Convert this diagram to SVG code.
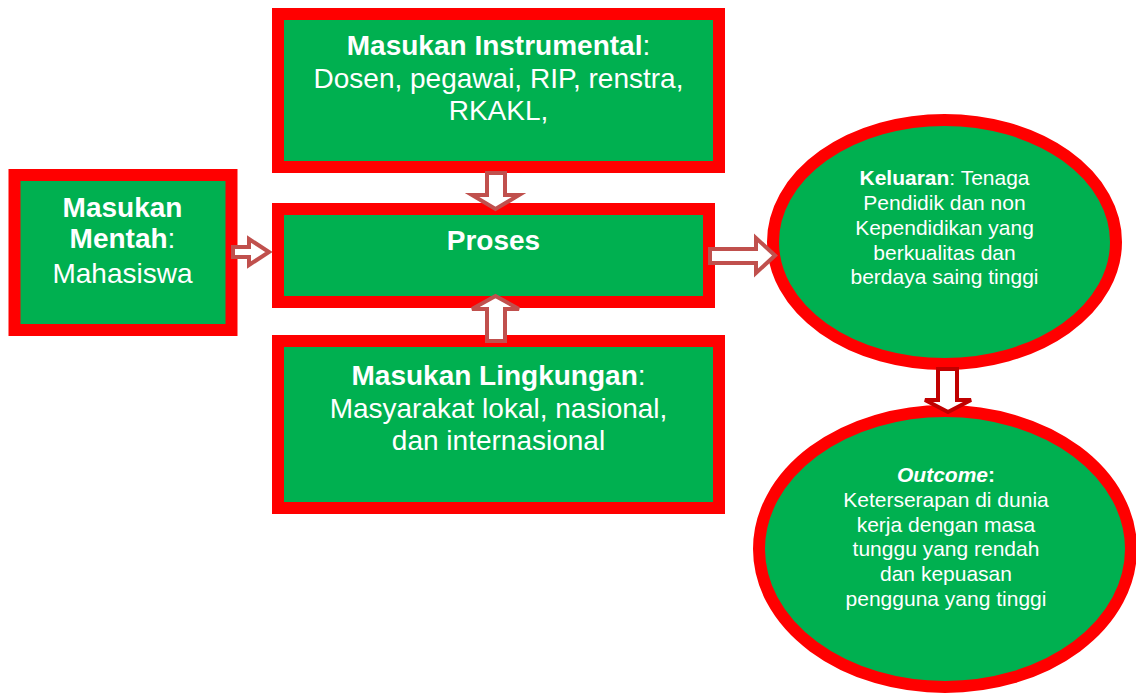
<svg xmlns="http://www.w3.org/2000/svg" width="1136" height="695" viewBox="0 0 1136 695">
<style>
.box{fill:#00B050;stroke:#FF0000;stroke-width:12}
.t{font-family:"Liberation Sans",Arial,sans-serif;fill:#FFFFFF;text-anchor:middle}
.big{font-size:28px}
.sm{font-size:21px}
.b{font-weight:bold}
.arr{fill:#FFFFFF;stroke:#C0504D;stroke-width:4;stroke-linejoin:miter}
.arr2{fill:#FFFFFF;stroke:#C00000;stroke-width:4;stroke-linejoin:miter}
</style>
<rect width="1136" height="695" fill="#FFFFFF"/>
<g id="instrumental">
<rect class="box" x="278" y="14" width="441" height="153"/>
<text class="t big" x="498.5" y="55"><tspan class="b">Masukan Instrumental</tspan>:</text>
<text class="t big" x="498.5" y="88">Dosen, pegawai, RIP, renstra,</text>
<text class="t big" x="498.5" y="120">RKAKL,</text>
</g>
<g id="mentah">
<rect class="box" x="14.5" y="175" width="217" height="155"/>
<text class="t big" x="122.5" y="217"><tspan class="b">Masukan</tspan></text>
<text class="t big" x="122.5" y="248"><tspan class="b">Mentah</tspan>:</text>
<text class="t big" x="122.5" y="283">Mahasiswa</text>
</g>
<g id="proses">
<rect class="box" x="278" y="209" width="431" height="93"/>
<text class="t big b" x="493.5" y="250">Proses</text>
</g>
<g id="lingkungan">
<rect class="box" x="278" y="341" width="441" height="167"/>
<text class="t big" x="498.5" y="385"><tspan class="b">Masukan Lingkungan</tspan>:</text>
<text class="t big" x="498.5" y="418">Masyarakat lokal, nasional,</text>
<text class="t big" x="498.5" y="450">dan internasional</text>
</g>
<g id="keluaran">
<ellipse class="box" cx="944.5" cy="242" rx="171.5" ry="122"/>
<text class="t sm" x="944.5" y="185"><tspan class="b">Keluaran</tspan>: Tenaga</text>
<text class="t sm" x="944.5" y="210">Pendidik dan non</text>
<text class="t sm" x="944.5" y="235">Kependidikan yang</text>
<text class="t sm" x="944.5" y="260">berkualitas dan</text>
<text class="t sm" x="944.5" y="284">berdaya saing tinggi</text>
</g>
<g id="outcome">
<ellipse class="box" cx="945" cy="549" rx="186" ry="138"/>
<text class="t sm" x="946" y="482"><tspan class="b" font-style="italic">Outcome</tspan><tspan class="b">:</tspan></text>
<text class="t sm" x="946" y="507">Keterserapan di dunia</text>
<text class="t sm" x="946" y="531.5">kerja dengan masa</text>
<text class="t sm" x="946" y="556">tunggu yang rendah</text>
<text class="t sm" x="946" y="581">dan kepuasan</text>
<text class="t sm" x="946" y="606">pengguna yang tinggi</text>
</g>
<g id="connectors">
<polygon class="arr" points="233,247 249,247 249,239 269,252 249,265 249,257 233,257"/>
<polygon class="arr" points="710,249 756,249 756,238 775,255.5 756,273 756,263 710,263"/>
<polygon class="arr" points="487,173 505,173 505,195 519,195 495.5,209 472,195 487,195"/>
<polygon class="arr" points="487,341 505,341 505,309 519,309 495.5,296 472,309 487,309"/>
<polygon class="arr2" points="938,369 957,369 957,400 971,400 948,412 925,400 938,400"/>
</g>
</svg>
